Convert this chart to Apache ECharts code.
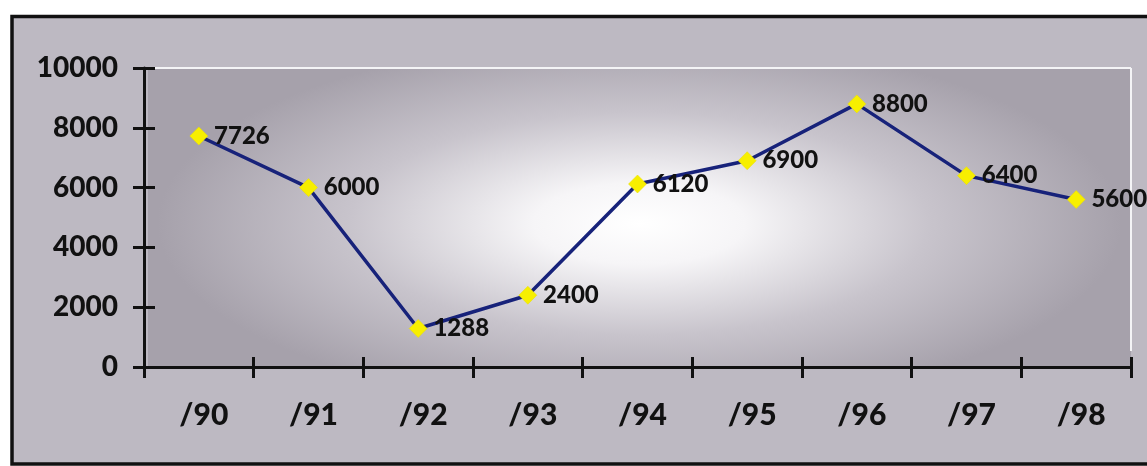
<!DOCTYPE html>
<html>
<head>
<meta charset="utf-8">
<script src="https://cdn.jsdelivr.net/npm/echarts@6/dist/echarts.min.js"></script>
<style>
  html, body { margin: 0; padding: 0; background: #ffffff; }
  #chart { width: 1147px; height: 466px; }
</style>
</head>
<body>
<div id="chart"></div>
<script>
// Yearly values
const categories = ['/90', '/91', '/92', '/93', '/94', '/95', '/96', '/97', '/98'];
const values = [7726, 6000, 1288, 2400, 6120, 6900, 8800, 6400, 5600];
const yTicks = { min: 0, max: 10000, interval: 2000 };

// Plot frame (pixels)
const G = { left: 144, top: 68, width: 987, height: 299 };
const FONT = 'Lato, "Open Sans", sans-serif';
const WEIGHT = 900;

const chart = echarts.init(document.getElementById('chart'), null, { renderer: 'canvas' });

// Elliptical glow: a rect squashed horizontally, then stretched back with scaleX
const SX = 2.6;
const wallX = G.left + 4;
const wallW = G.left + G.width - wallX;

chart.setOption({
  animation: false,
  backgroundColor: '#ffffff',
  grid: { left: G.left, top: G.top, width: G.width, height: G.height, containLabel: false },
  graphic: [
    {
      type: 'rect', z: -20, silent: true,
      shape: { x: 12, y: 16.5, width: 1150, height: 447.5 },
      style: { fill: '#bdb9c2', stroke: '#111111', lineWidth: 3.5 }
    },
    {
      type: 'rect', z: -19, silent: true,
      x: wallX, y: G.top, scaleX: SX, scaleY: 1,
      shape: { x: 0, y: 0, width: wallW / SX, height: G.height },
      style: {
        fill: new echarts.graphic.RadialGradient(0.5, 0.52, 0.62, [
          { offset: 0, color: '#ffffff' },
          { offset: 0.22, color: '#f6f5f7' },
          { offset: 0.6, color: '#c8c4cc' },
          { offset: 1, color: '#a6a1ab' }
        ])
      }
    },
    {
      type: 'line', z: -18, silent: true,
      shape: { x1: wallX, y1: G.top, x2: G.left + G.width, y2: G.top },
      style: { stroke: '#f4f4f6', lineWidth: 2 }
    },
    {
      type: 'line', z: -18, silent: true,
      shape: { x1: G.left + G.width, y1: G.top, x2: G.left + G.width, y2: G.top + G.height - 16 },
      style: { stroke: '#f4f4f6', lineWidth: 2 }
    }
  ],
  xAxis: [
    {
      type: 'category', data: categories, boundaryGap: true, position: 'bottom',
      axisLine: { show: true, lineStyle: { color: '#111', width: 3 } },
      axisTick: { show: true, length: 11, lineStyle: { color: '#111', width: 3 } },
      axisLabel: {
        margin: 33, color: '#111', fontFamily: FONT, fontWeight: WEIGHT, fontSize: 30,
        padding: [0, 0, 0, 10]
      },
      splitLine: { show: false }
    },
    {
      type: 'category', data: categories, boundaryGap: true, position: 'bottom',
      axisLine: { show: false },
      axisTick: { show: true, inside: true, length: 10, lineStyle: { color: '#111', width: 3 } },
      axisLabel: { show: false },
      splitLine: { show: false }
    }
  ],
  yAxis: [
    {
      type: 'value', min: yTicks.min, max: yTicks.max, interval: yTicks.interval,
      axisLine: { show: true, lineStyle: { color: '#111', width: 3 } },
      axisTick: { show: true, length: 11, lineStyle: { color: '#111', width: 3 } },
      axisLabel: {
        margin: 26, color: '#111', fontFamily: FONT, fontWeight: WEIGHT, fontSize: 28,
        formatter: (v) => String(v)
      },
      splitLine: { show: false }
    },
    {
      type: 'value', min: yTicks.min, max: yTicks.max, interval: yTicks.interval, position: 'left',
      axisLine: { show: false },
      axisTick: { show: true, inside: true, length: 11, lineStyle: { color: '#111', width: 3 } },
      axisLabel: { show: false },
      splitLine: { show: false }
    }
  ],
  series: [
    {
      type: 'line',
      xAxisIndex: 0, yAxisIndex: 0,
      data: values,
      symbol: 'diamond',
      symbolSize: 18,
      lineStyle: { color: '#17227a', width: 3.5 },
      itemStyle: { color: '#f7ef00', borderColor: '#e8dc00', borderWidth: 0.5 },
      label: {
        show: true, position: 'right', distance: 6,
        color: '#111', fontFamily: FONT, fontWeight: WEIGHT, fontSize: 24,
        formatter: (p) => String(p.value)
      },
      z: 3
    }
  ]
});
</script>
</body>
</html>
